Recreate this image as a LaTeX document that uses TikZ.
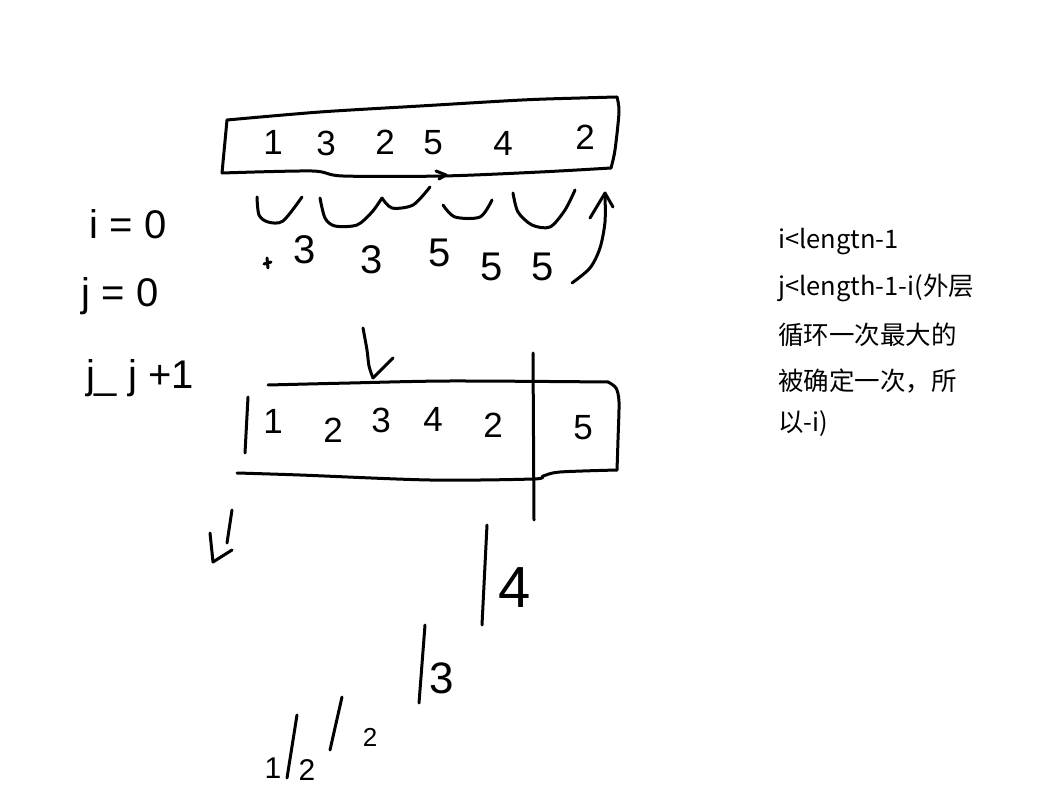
\documentclass[tikz,border=0pt]{standalone}
\usepackage{fontspec}
\setmainfont{Liberation Sans}
\newfontfamily\cjk{Noto Sans CJK SC}
\begin{document}
\begin{tikzpicture}[x=1pt,y=-1pt,
  pen/.style={line width=3pt,line cap=round,line join=round},
  hw/.style={inner sep=0pt,font=\fontsize{35}{35}\selectfont},
  hwl/.style={inner sep=0pt,font=\fontsize{40}{40}\selectfont},
  note/.style={inner sep=0pt,anchor=west,font=\cjk\fontsize{25.5}{25.5}\selectfont}]
\useasboundingbox[fill=white] (0,0) rectangle (1050,794);
% top box
\draw[pen] plot[smooth] coordinates {(227,120)(320,112)(420,106)(522,100)(580,98)(617,97)};
\draw[pen] plot[smooth] coordinates {(617,97)(619,112)(615,150)(611,168)};
\draw[pen] plot[smooth] coordinates {(611,168)(540,172)(443,176)(343,176)(312,171)(222,173)};
\draw[pen] (227,120) -- (222,173);
\draw[pen] (436,171) -- (446,175) -- (439,179);
% digits in top box
\node[hw] (a1) at (273,142) {1};
\node[hw] (a2) at (326,143) {3};
\node[hw] (a3) at (385,142) {2};
\node[hw] (a4) at (433,143) {5};
\node[hw] (a5) at (503,143) {4};
\node[hw] (a6) at (585,137) {2};
% arcs
\draw[pen] plot[smooth] coordinates {(257,197)(259,215)(268,222)(283,221)(302,197)};
\draw[pen] plot[smooth] coordinates {(320,198)(325,218)(335,226)(357,225)(372,212)(382,198)};
\draw[pen] plot[smooth] coordinates {(382,198)(392,208)(413,205)(430,187)};
\draw[pen] plot[smooth] coordinates {(443,205)(455,217)(480,217)(492,200)};
\draw[pen] plot[smooth] coordinates {(513,193)(518,212)(532,225)(550,227)(565,210)(575,190)};
% curved arrow
\draw[pen] plot[smooth] coordinates {(572,283)(590,268)(600,248)(605,222)(605,195)};
\draw[pen] (590,218) -- (605,193) -- (613,207);
% numbers below arcs
\draw[pen] (267,258) -- (268,268);
\draw[pen] (264,264) -- (271,262);
\node[hwl] (b1) at (305,250) {3};
\node[hwl] (b2) at (372,260) {3};
\node[hwl] (b3) at (440,253) {5};
\node[hwl] (b4) at (492,267) {5};
\node[hwl] (b5) at (543,267) {5};
% left labels
\node[hwl] (l1) at (128,224) {i = 0};
\node[hwl] (l2) at (120,296) {j = 0};
\node[hwl] (l3) at (140,378) {j\_ j +1};
% down arrow
\draw[pen] plot[smooth] coordinates {(363,328)(367,350)(369,366)(373,378)};
\draw[pen] (373,378) -- (393,358);
% bottom box
\draw[pen] plot[smooth] coordinates {(268,385)(350,383)(450,381)(608,382)};
\draw[pen] plot[smooth] coordinates {(608,382)(616,388)(619,402)(618,440)(617,470)};
\draw[pen] plot[smooth] coordinates {(617,470)(560,472)(543,476)(533,479)(430,480)(300,475)(237,473)};
\draw[pen] (248,397) -- (245,453);
\draw[pen] (533,353) -- (534,520);
\node[hw] (c1) at (273,421) {1};
\node[hw] (c2) at (333,430) {2};
\node[hw] (c3) at (381,420) {3};
\node[hw] (c4) at (433,419) {4};
\node[hw] (c5) at (493,425) {2};
\node[hw] (c6) at (583,428) {5};
% bottom-left mark
\draw[pen] (232,510) -- (227,543);
\draw[pen] (232,550) -- (213,562) -- (210,533);
% staircase
\draw[pen] (487,525) -- (482,625);
\node[inner sep=0pt,font=\fontsize{58}{58}\selectfont] (d4) at (515,588) {4};
\draw[pen] (425,625) -- (419,703);
\node[inner sep=0pt,font=\fontsize{44}{44}\selectfont] (d3) at (442,678) {3};
\draw[pen] (342,697) -- (330,750);
\node[inner sep=0pt,font=\fontsize{26}{26}\selectfont] (d2) at (370,737) {2};
\node[inner sep=0pt,font=\fontsize{30}{30}\selectfont] (d1) at (273,768) {1};
\draw[pen] (297,715) -- (287,778);
\node[inner sep=0pt,font=\fontsize{30}{30}\selectfont] (d0) at (307,770) {2};
% notes
\node[note] (t1) at (778,242) {i<lengtn-1};
\node[note] (t2) at (778,288) {j<length-1-i(外层};
\node[note] (t3) at (778,335) {循环一次最大的};
\node[note] (t4) at (778,381) {被确定一次，所};
\node[note] (t5) at (778,424) {以-i)};
\end{tikzpicture}
\end{document}
